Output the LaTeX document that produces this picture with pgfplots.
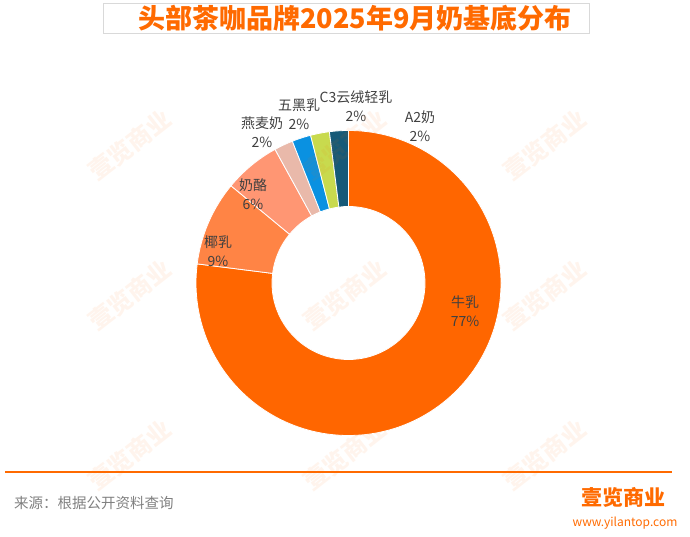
\documentclass[border=0pt]{standalone}
\usepackage{pgfplots}
\pgfplotsset{compat=1.18}
\usepackage{pgfplotstable}
\usepackage{fontspec}
\setmainfont{Noto Sans CJK SC}
\IfFontExistsTF{Noto Sans CJK SC Black}
  {\newfontfamily\titlefont{Noto Sans CJK SC Black}}
  {\newfontfamily\titlefontbase{Noto Sans CJK SC}\def\titlefont{\titlefontbase\bfseries}}

\definecolor{cMilk}{HTML}{FF6600}
\definecolor{cCoco}{HTML}{FF8445}
\definecolor{cCheese}{HTML}{FF9673}
\definecolor{cOat}{HTML}{E9B9AA}
\definecolor{cBlack}{HTML}{0A91E1}
\definecolor{cC3}{HTML}{C8DA4E}
\definecolor{cA2}{HTML}{165A78}
\definecolor{brand}{HTML}{FF6A00}
\definecolor{labelgray}{HTML}{404040}
\definecolor{srcgray}{HTML}{808080}

% share of milk base, %, clockwise from 12 o'clock; lx ly = label position (px, y up)
\pgfplotstableread{
label value color lx ly
牛乳 77 cMilk 465 226
椰乳 9 cCoco 218 286
奶酪 6 cCheese 253 343
燕麦奶 2 cOat 262 405
五黑乳 2 cBlack 299 423
C3云绒轻乳 2 cC3 356 431
A2奶 2 cA2 420 411
}\milkdata

\begin{document}
\begin{tikzpicture}
\begin{axis}[
  x=1pt, y=1pt,
  xmin=0, xmax=690, ymin=0, ymax=537,
  hide axis, clip=false,
]
  % donut
  \def\cx{348.5}\def\cy{254}\def\ro{152.5}\def\ri{76.5}
  \pgfplotstablegetrowsof{\milkdata}
  \pgfmathtruncatemacro\nrows{\pgfplotsretval-1}
  \gdef\startang{90}
  \pgfplotsforeachungrouped \i in {0,...,\nrows}{
    \pgfplotstablegetelem{\i}{value}\of\milkdata \let\v\pgfplotsretval
    \pgfplotstablegetelem{\i}{color}\of\milkdata \let\c\pgfplotsretval
    \pgfmathsetmacro\endang{\startang-3.6*\v}
    \edef\temp{\noexpand\filldraw[fill=\c, draw=white, line width=0.8pt]
      (axis cs:{\cx+\ro*cos(\startang)},{\cy+\ro*sin(\startang)})
      arc[start angle=\startang, end angle=\endang, radius=\ro pt]
      -- (axis cs:{\cx+\ri*cos(\endang)},{\cy+\ri*sin(\endang)})
      arc[start angle=\endang, end angle=\startang, radius=\ri pt] -- cycle;}
    \temp
    \global\let\startang\endang
  }
  % data labels
  \pgfplotsforeachungrouped \i in {0,...,\nrows}{
    \pgfplotstablegetelem{\i}{label}\of\milkdata \let\l\pgfplotsretval
    \pgfplotstablegetelem{\i}{value}\of\milkdata \let\v\pgfplotsretval
    \pgfplotstablegetelem{\i}{lx}\of\milkdata \let\lx\pgfplotsretval
    \pgfplotstablegetelem{\i}{ly}\of\milkdata \let\ly\pgfplotsretval
    \edef\temp{\noexpand\node[align=center, text=labelgray,
      font=\noexpand\fontsize{14}{18.5}\noexpand\selectfont]
      at (axis cs:\lx,\ly) {\l\noexpand\\\v\noexpand\%};}
    \temp
  }

  % title box
  \draw[gray!30, line width=0.8pt, fill=white] (axis cs:103,534) rectangle (axis cs:589,504);
  \node[text=brand, font=\titlefont\fontsize{27}{30}\selectfont] at (axis cs:355,518.5)
    {头部茶咖品牌2025年9月奶基底分布};

  % footer
  \draw[brand, line width=2.4pt] (axis cs:5,65) -- (axis cs:672,65);
  \node[anchor=west, text=srcgray, font=\fontsize{14.5}{16}\selectfont, inner sep=0pt]
    at (axis cs:14,34) {来源：根据公开资料查询};
  \node[text=brand, font=\titlefont\fontsize{21}{24}\selectfont, inner sep=0pt]
    at (axis cs:623,40) {壹览商业};
  \node[text=brand, font=\fontsize{12}{14}\selectfont, inner sep=0pt]
    at (axis cs:625,14) {www.yilantop.com};

  % watermarks
  \pgfplotsforeachungrouped \wx in {130,345,545}{
    \pgfplotsforeachungrouped \wy in {392,242,82}{
      \edef\temp{\noexpand\node[rotate=38, text=brand, opacity=0.07,
        font=\noexpand\titlefont\noexpand\fontsize{24}{26}\noexpand\selectfont]
        at (axis cs:\wx,\wy) {壹览商业};}
      \temp
    }
  }
\end{axis}
\pgfresetboundingbox
\path[use as bounding box] (current axis.south west) rectangle (current axis.north east);
\end{tikzpicture}
\end{document}
